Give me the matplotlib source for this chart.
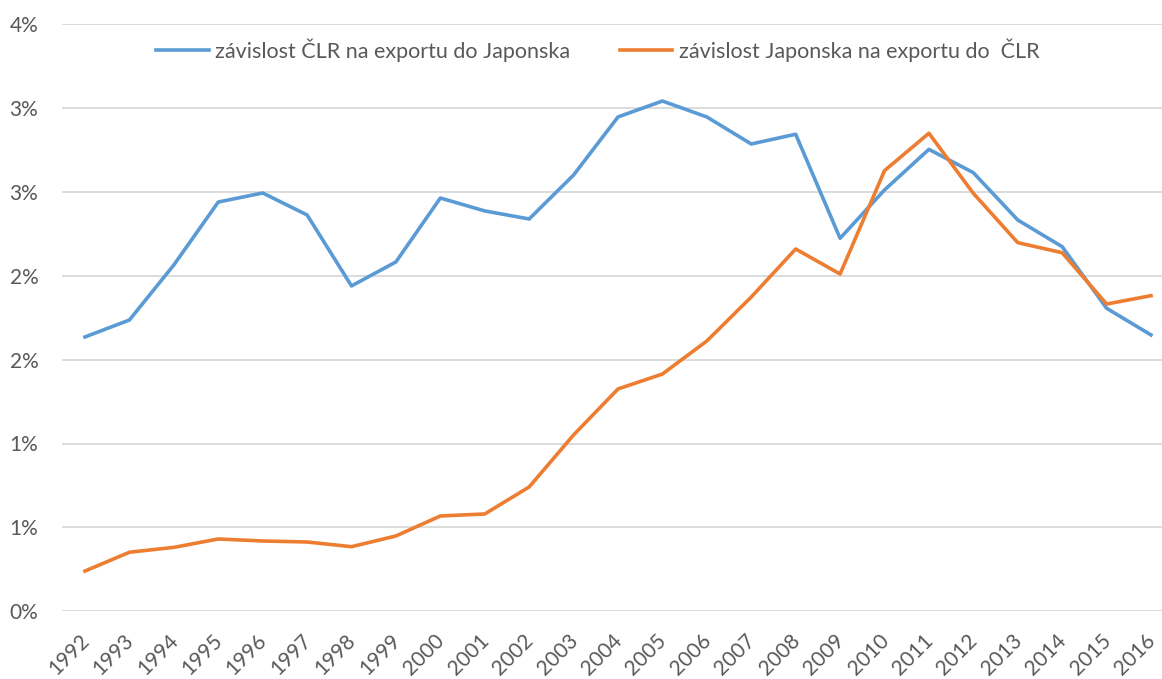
import numpy as np
import matplotlib.pyplot as plt
import matplotlib.transforms as mtransforms
from matplotlib.ticker import FuncFormatter, MultipleLocator

plt.rcParams['font.family'] = ['Lato', 'DejaVu Sans']

# Data (% of exports)
years = list(range(1992, 2017))
cz_to_jp = [1.635, 1.736, 2.064, 2.439, 2.493, 2.362, 1.939, 2.082, 2.463, 2.386,
            2.338, 2.600, 2.946, 3.041, 2.946, 2.785, 2.843, 2.223, 2.511, 2.753,
            2.614, 2.332, 2.173, 1.806, 1.647]
jp_to_cz = [0.240, 0.352, 0.381, 0.431, 0.419, 0.413, 0.385, 0.449, 0.568, 0.580,
            0.741, 1.051, 1.325, 1.414, 1.611, 1.873, 2.159, 2.010, 2.626, 2.849,
            2.491, 2.197, 2.137, 1.831, 1.881]
labels = ['závislost ČLR na exportu do Japonska', 'závislost Japonska na exportu do  ČLR']

text_color = '#595959'

fig = plt.figure(figsize=(11.62, 6.79), dpi=100)
ax = fig.add_axes([62 / 1162, 1 - 611.3 / 679, 1100 / 1162, (611.3 - 24) / 679])

ax.plot(years, cz_to_jp, color='#5B9BD5', lw=2.6, label=labels[0], solid_joinstyle='round')
ax.plot(years, jp_to_cz, color='#ED7D31', lw=2.6, label=labels[1], solid_joinstyle='round')

ax.set_ylim(0, 3.5)
ax.set_xlim(1992 - 23 / 44.4, 2016 + 11 / 44.4)
ax.yaxis.set_major_locator(MultipleLocator(0.5))
ax.yaxis.set_major_formatter(FuncFormatter(lambda v, p: f"{int(np.floor(v + 0.5))}%"))
ax.set_xticks(years)
ax.set_xticklabels([str(y) for y in years], rotation=45, ha='right', rotation_mode='anchor')

ax.grid(axis='y', color='#D9D9D9', lw=1.3)
ax.set_axisbelow(True)
for s in ax.spines.values():
    s.set_visible(False)
ax.tick_params(axis='both', length=0, colors=text_color, labelsize=15)
ax.tick_params(axis='y', pad=17)
ax.tick_params(axis='x', pad=14)

# nudge the rotated year labels a bit left so 2016 stays inside
shift = mtransforms.ScaledTranslation(-6 / 100, 0, fig.dpi_scale_trans)
for lbl in ax.get_xticklabels():
    lbl.set_transform(lbl.get_transform() + shift)

ax.legend(loc='center', bbox_to_anchor=(0.487, 0.956), ncol=2, frameon=False,
          fontsize=15.5, labelcolor=text_color, handlelength=2.45, handletextpad=0.3,
          columnspacing=2.3)

fig.savefig('out.png', dpi=100)
